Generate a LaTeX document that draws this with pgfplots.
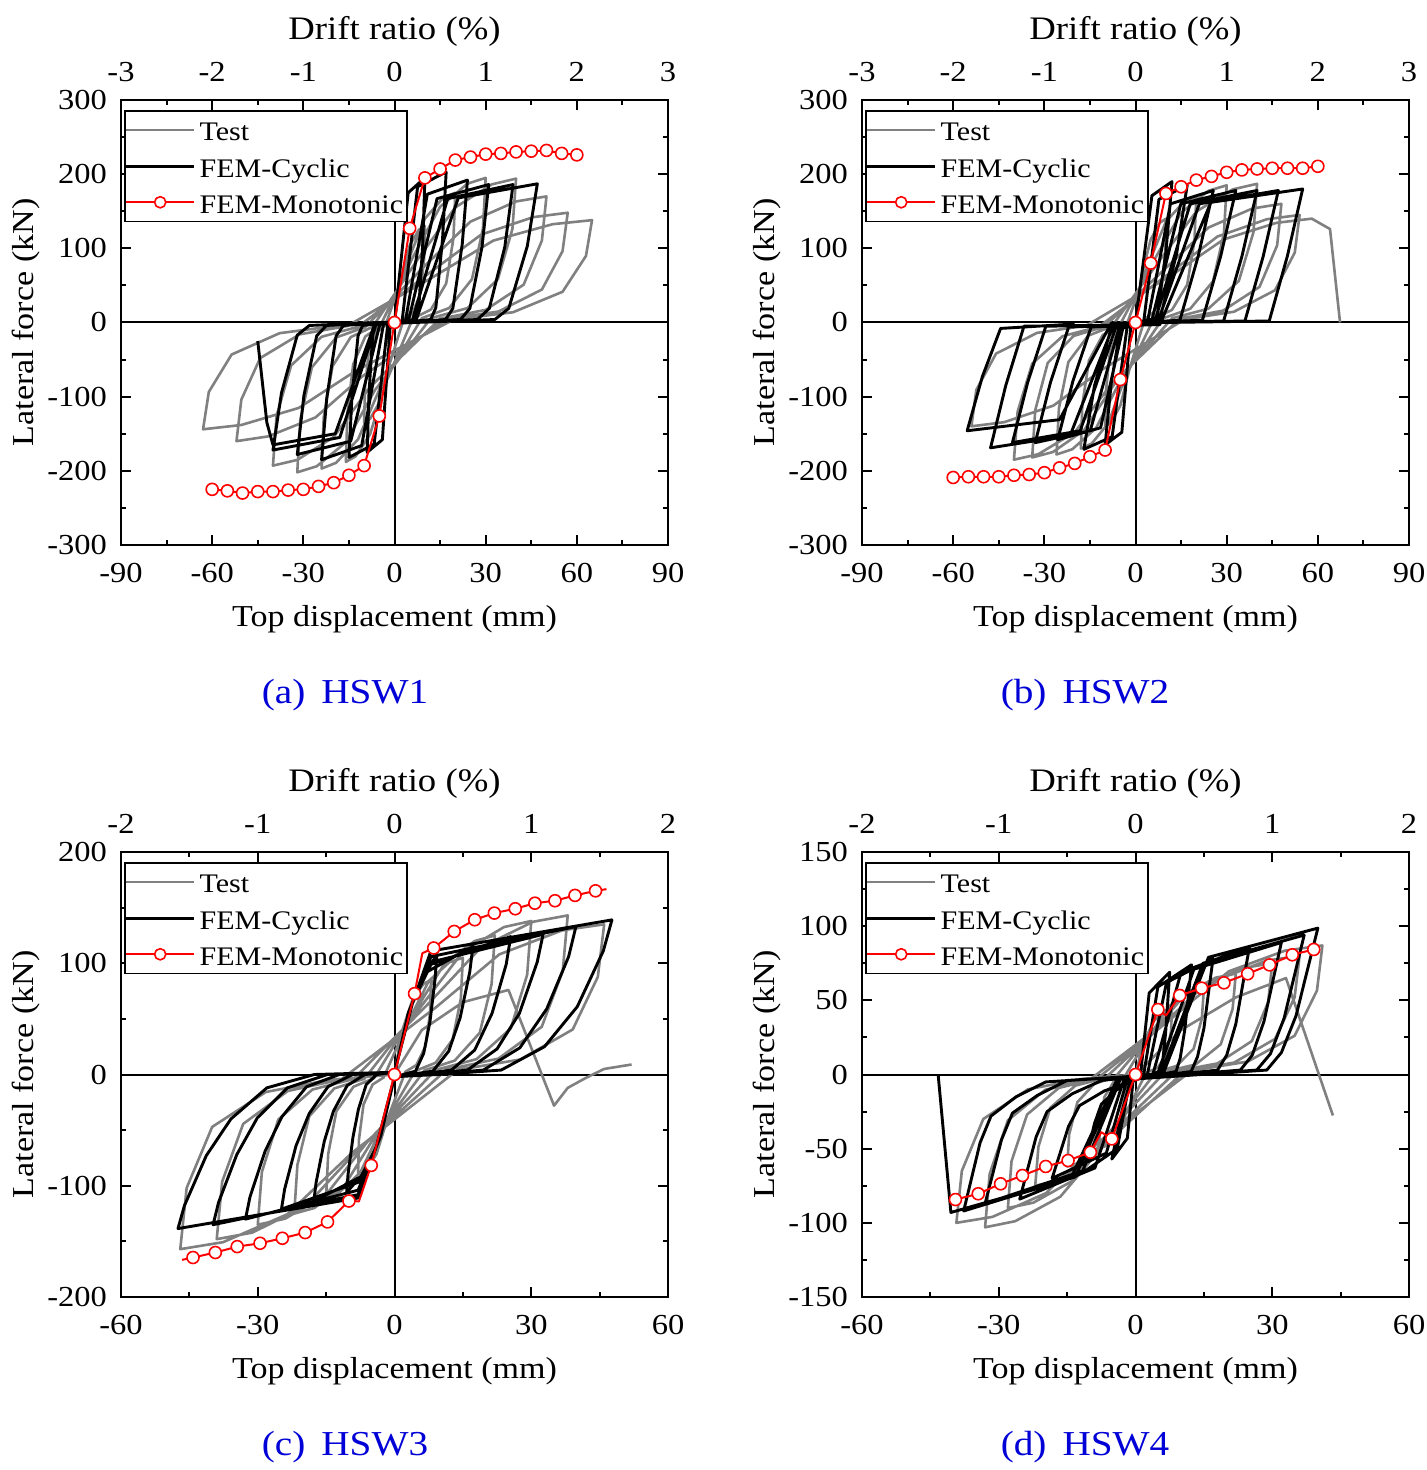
\documentclass[border=0pt]{standalone}
\usepackage{fontspec}
\setmainfont{Liberation Serif}[FakeStretch=1.12]
\usepackage{pgfplots}
\pgfplotsset{compat=1.18}
\definecolor{testgray}{RGB}{128,128,128}
\definecolor{capblue}{RGB}{0,0,215}
\newcommand{\tickfont}{\fontsize{14.5}{14.5}\selectfont}
\newcommand{\labfont}{\fontsize{15.2}{15.2}\selectfont}
\newcommand{\drfont}{\fontsize{16.4}{16.4}\selectfont}
\newcommand{\legfont}{\fontsize{13.4}{13.4}\selectfont}
\newcommand{\capfont}{\fontsize{17.5}{17.5}\selectfont}
\newcommand{\ls}{\rule[-5pt]{0pt}{17.6pt}}
\pgfplotsset{
  hswbase/.style={
    scale only axis, width=273.5pt, height=222.5pt, anchor=north west,
    axis line style={line width=1.2pt},
    tick style={black, line width=1pt},
    major tick length=5pt, minor tick length=2.5pt,
    tick align=inside,
    minor x tick num=1, minor y tick num=1,
    /pgf/number format/assume math mode=true,
    tick label style={font=\tickfont},
    label style={font=\labfont},
  },
  hsw/.style={hswbase,
    xlabel={Top displacement (mm)}, ylabel={Lateral force (kN)},
    xlabel style={at={(axis description cs:0.5,-0.167)}, anchor=center},
    ylabel style={at={(axis description cs:-0.174,0.5)}, anchor=center},
    xticklabel style={yshift=-5.8pt},
    yticklabel style={xshift=-3.5pt},
    legend style={at={(axis description cs:0.0055,0.9775)}, anchor=north west, draw=black, line width=0.75pt, font=\legfont, inner xsep=0pt, inner ysep=0.5pt},
    legend cell align=left,
    legend image code/.code={\draw[##1] (0pt,0pt) -- (34pt,0pt);},
  },
  hswtop/.style={hswbase, axis x line*=top, axis y line=none, ymin=0, ymax=1,
    xlabel={Drift ratio (\%)},
    xlabel style={font=\drfont, at={(axis description cs:0.5,1.155)}, anchor=center},
    xticklabel style={yshift=5.8pt},
  },
  zero/.style={black, line width=1pt, forget plot},
  test/.style={testgray, line width=1.3pt, line join=round},
  fem/.style={black, line width=1.45pt, line join=round},
  mono/.style={red, line width=1pt, line join=round, mark=*, mark size=3pt, mark options={fill=white, draw=red, line width=0.8pt},
    legend image code/.code={\draw[red, line width=1.2pt] (0pt,0pt) -- (34pt,0pt); \draw[red, fill=white, line width=0.8pt] (17pt,0pt) circle (2.8pt);}},
}
\begin{document}
\begin{tikzpicture}
\useasboundingbox (0,0) rectangle (713.5pt,-735pt);
% ---------------- (a) HSW1 ----------------
\begin{axis}[hsw, at={(60.5pt,-50pt)}, xmin=-90, xmax=90, ymin=-300, ymax=300,
  xtick={-90,-60,...,90}, ytick={-300,-200,...,300}]
\addplot[zero] coordinates {(-90,0) (90,0)};
\addplot[zero] coordinates {(0,-300) (0,300)};
\addplot[test] coordinates {(0,0)
(2,58.5) (5,104) (8,125) (10,130) (9.7,84.5) (8.5,39) (6,13) (3,3.9) (-2,-60.75) (-5,-108) (-8,-129.6) (-10,-135) (-9.7,-87.75) (-8.5,-40.5) (-6,-13.5) (-3,-4)
(4,78.75) (10,140) (16,168) (20,175) (19.4,113.75) (17,52.5) (12,17.5) (6,5.25) (-3.2,-84.6) (-8,-150.4) (-12.8,-180.5) (-16,-188) (-15.5,-122.2) (-13.6,-56.4) (-9.6,-18.8) (-4.8,-5.6)
(6,87.75) (15,156) (24,187.2) (30,195) (29.1,126.75) (25.5,58.5) (18,19.5) (9,5.85) (-4.8,-88.65) (-12,-157.6) (-19.2,-189.1) (-24,-197) (-23.3,-128) (-20.4,-59.1) (-14.4,-19.7) (-7.2,-5.9)
(8,87.3) (20,155.2) (32,186.2) (40,194) (38.8,126.1) (34,58.2) (24,19.4) (12,5.8) (-6.4,-90.9) (-16,-161.6) (-25.6,-193.9) (-32,-202) (-31,-131.3) (-27.2,-60.6) (-19.2,-20.2) (-9.6,-6.1)
(10,76.5) (25,136) (40,163.2) (50,170) (48.5,110.5) (42.5,51) (30,17) (15,5.1) (-8,-86.85) (-20,-154.4) (-32,-185.3) (-40,-193) (-38.8,-125.5) (-34,-57.9) (-24,-19.3) (-12,-5.8)
(11.4,66.6) (28.5,118.4) (45.6,142) (57,148) (55.3,96.2) (48.5,44.4) (34.2,14.8) (17.1,4.4) (-10.4,-72) (-26,-128) (-41.6,-153.6) (-52,-160) (-50.4,-104) (-44.2,-48) (-31.2,-16) (-15.6,-4.8)
(13,62.1) (32.5,110.4) (52,132.5) (65,138) (63,89.7) (55.3,41.4) (39,13.8) (19.5,4.1) (-12.6,-64.8) (-31.5,-115.2) (-50.4,-138.2) (-63,-144) (-61.1,-93.6) (-53.6,-43.2) (-37.8,-14.4) (-18.9,-4.3)};
\addlegendentry{\ls Test}
\addplot[fem] coordinates {(0,0) (4.5,175) (10,195) (9.3,107) (8,20) (7,4) (-1.35,-2) (-4,-158) (-9,-175) (-8.4,-96) (-7.2,-18) (-6.3,-3.5)
(2.5,2) (7.6,183) (17,203) (15.8,112) (13.6,20) (11.9,4) (-2.2,-2) (-6.7,-164) (-15,-182) (-14,-100) (-12,-18) (-10.5,-4)
(3.6,2) (10.8,173) (24,192) (22.3,106) (19.2,19) (16.8,4) (-3.6,-2) (-10.8,-166) (-24,-185) (-22.3,-102) (-19.2,-18) (-16.8,-4)
(4.6,2) (14,167) (31,186) (28.8,102) (24.8,19) (21.7,4) (-4.8,-2) (-14.4,-160) (-32,-178) (-29.8,-98) (-25.6,-18) (-22.4,-4)
(5.8,2) (17.5,167) (39,186) (36.3,102) (31.2,19) (27.3,4) (-6,-2) (-18,-155) (-40,-172) (-37.2,-95) (-32,-17) (-28,-4)
(7,2) (21,168) (47,187) (43.7,103) (37.6,19) (33,4) (-6.5,-2) (-19.5,-150) (-40,-165) (-42,-135) (-45,-25)};
\addlegendentry{\ls FEM-Cyclic}
\addplot[mono] coordinates {(-60,-225) (-55,-227) (-50,-230) (-45,-228) (-40,-228) (-35,-226) (-30,-225) (-25,-221) (-20,-216) (-15,-206) (-10,-193) (-5,-126) (0,0) (5,127) (10,195) (15,207) (20,219) (25,223) (30,227) (35,228) (40,230) (45,231) (50,232) (55,228) (60,226)};
\addlegendentry{\ls FEM-Monotonic}
\end{axis}
\begin{axis}[hswtop, at={(60.5pt,-50pt)}, xmin=-3, xmax=3, xtick={-3,...,3}]
\end{axis}
% ---------------- (b) HSW2 ----------------
\begin{axis}[hsw, at={(431pt,-50pt)}, xmin=-90, xmax=90, ymin=-300, ymax=300,
  xtick={-90,-60,...,90}, ytick={-300,-200,...,300}]
\addplot[zero] coordinates {(-90,0) (90,0)};
\addplot[zero] coordinates {(0,-300) (0,300)};
\addplot[test] coordinates {(0,0)
(2,63) (5,112) (8,134.4) (10,140) (9.7,91) (8.5,42) (6,14) (3,4.2) (-2,-63) (-5,-112) (-8,-134.4) (-10,-140) (-9.7,-91) (-8.5,-42) (-6,-14) (-3,-4.2)
(4,76.5) (10,136) (16,163.2) (20,170) (19.4,110.5) (17,51) (12,17) (6,5.1) (-3.6,-76.5) (-9,-136) (-14.4,-163.2) (-18,-170) (-17.5,-110.5) (-15.3,-51) (-10.8,-17) (-5.4,-5.1)
(6,83.25) (15,148) (24,177.6) (30,185) (29.1,120.25) (25.5,55.5) (18,18.5) (9,5.55) (-5.2,-80.1) (-13,-142.4) (-20.8,-170.9) (-26,-178) (-25.2,-115.7) (-22.1,-53.4) (-15.6,-17.8) (-7.8,-5.3)
(8,84.15) (20,149.6) (32,179.5) (40,187) (38.8,121.55) (34,56.1) (24,18.7) (12,5.6) (-6.8,-81.9) (-17,-145.6) (-27.2,-174.7) (-34,-182) (-33,-118.3) (-28.9,-54.6) (-20.4,-18.2) (-10.2,-5.5)
(9.6,72) (24,128) (38.4,153.6) (48,160) (46.6,104) (40.8,48) (28.8,16) (14.4,4.8) (-8,-83.25) (-20,-148) (-32,-177.6) (-40,-185) (-38.8,-120.25) (-34,-55.5) (-24,-18.5) (-12,-5.55)
(10.8,65.25) (27,116) (43.2,139.2) (54,145) (52.4,94.25) (45.9,43.5) (32.4,14.5) (16.2,4.35) (-10.8,-63) (-27,-112) (-43.2,-134.4) (-54,-140) (-52.4,-91) (-45.9,-42) (-32.4,-14) (-16.2,-4.2)
(11.6,63) (29,112) (46.4,134.4) (58,140) (64,126) (67.3,0)};
\addlegendentry{\ls Test}
\addplot[fem] coordinates {(0,0) (5.4,171) (12,190) (10,95) (7,6) (-1.5,-2) (-4.5,-148) (-10,-165) (-8,-82) (-5,-8)
(2.6,-2) (7.7,166) (17,185) (13.5,92) (8,5) (-2.6,-1) (-7.7,-154) (-17,-171) (-13.5,-85) (-8,-8)
(3.8,-2) (11.5,160) (25.6,178) (20.6,89) (14.6,3) (-3.8,-1) (-11.5,-142) (-25.6,-158) (-20.6,-79) (-14.6,-6)
(5,-3) (14.9,160) (33,178) (28,89) (22,3) (-5,-1) (-14.9,-146) (-33,-162) (-28,-81) (-22,-6)
(6,-3) (18,160) (40,178) (35,89) (29,2) (-6,-1) (-18.2,-146) (-40.5,-162) (-35.5,-81) (-29.5,-5)
(7,-3) (21,160) (47,178) (42,89) (36,2) (-7,-1) (-21.5,-152) (-47.7,-169) (-42.7,-85) (-36.7,-5)
(8,-3) (24.8,162) (55,180) (50,90) (44,2) (-8,-1) (-25,-131) (-55.4,-146) (-50.4,-73) (-44.4,-8) (-20,-2)};
\addlegendentry{\ls FEM-Cyclic}
\addplot[mono] coordinates {(-60,-209) (-55,-208) (-50,-208) (-45,-208) (-40,-206) (-35,-205) (-30,-202.5) (-25,-196) (-20,-190) (-15,-181) (-10,-172) (-5,-77) (0,0) (5,80) (10,174) (15,183) (20,192) (25,197) (30,202.5) (35,205.7) (40,207) (45,208) (50,208) (55,208) (60,210.6)};
\addlegendentry{\ls FEM-Monotonic}
\end{axis}
\begin{axis}[hswtop, at={(431pt,-50pt)}, xmin=-3, xmax=3, xtick={-3,...,3}]
\end{axis}
% ---------------- (c) HSW3 ----------------
\begin{axis}[hsw, at={(60.5pt,-426pt)}, xmin=-60, xmax=60, ymin=-200, ymax=200,
  xtick={-60,-30,...,60}, ytick={-200,-100,...,200}]
\addplot[zero] coordinates {(-60,0) (60,0)};
\addplot[zero] coordinates {(0,-200) (0,200)};
\addplot[test] coordinates {(0,0)
(1.6,38.25) (4,68) (6.4,81.6) (8,85) (7.8,55.25) (6.8,25.5) (4.8,8.5) (2.4,2.55) (-1.6,-40.5) (-4,-72) (-6.4,-86.4) (-8,-90) (-7.8,-58.5) (-6.8,-27) (-4.8,-9) (-2.4,-2.7)
(3,47.25) (7.5,84) (12,100.8) (15,105) (14.55,68.25) (12.75,31.5) (9,10.5) (4.5,3.15) (-3,-49.5) (-7.5,-88) (-12,-105.6) (-15,-110) (-14.55,-71.5) (-12.75,-33) (-9,-11) (-4.5,-3.3)
(4.4,56.25) (11,100) (17.6,120) (22,125) (21.3,81.25) (18.7,37.5) (13.2,12.5) (6.6,3.75) (-4.4,-56.25) (-11,-100) (-17.6,-120) (-22,-125) (-21.3,-81.25) (-18.7,-37.5) (-13.2,-12.5) (-6.6,-3.75)
(6,62.1) (15,110.4) (24,132.5) (30,138) (29.1,89.7) (25.5,41.4) (18,13.8) (9,4.1) (-6,-60.75) (-15,-108) (-24,-129.6) (-30,-135) (-29.1,-87.75) (-25.5,-40.5) (-18,-13.5) (-9,-4.05)
(7.6,64.35) (19,114.4) (30.4,137.3) (38,143) (36.9,93) (32.3,42.9) (22.8,14.3) (11.4,4.3) (-7.8,-66.6) (-19.5,-118.4) (-31.2,-142.1) (-39,-148) (-37.8,-96.2) (-33.2,-44.4) (-23.4,-14.8) (-11.7,-4.4)
(9.2,60.75) (23,108) (36.8,129.6) (46,135) (44.6,87.75) (39.1,40.5) (27.6,13.5) (13.8,4.05) (-9.4,-70.65) (-23.5,-125.6) (-37.6,-150.7) (-47,-157) (-45.6,-102) (-40,-47.1) (-28.2,-15.7) (-14.1,-4.7)
(0,0) (6,40) (15,65) (25,76) (35,-28) (38,-12) (42,-3) (46,5) (52,9)};
\addlegendentry{\ls Test}
\addplot[fem] coordinates {(0,0) (3,55) (6,86) (9.3,108) (8.9,86) (7.8,48) (6.4,19) (4.6,3) (1.9,0) (0,-2) (-3,-55) (-6,-85) (-10.5,-106) (-10.2,-90) (-9.1,-56) (-7.9,-31) (-6.2,-9) (-3.9,0) (0,2)
(3.5,60) (7,92) (17.2,115) (16.5,92) (14.4,51) (11.9,21) (8.4,3) (3.4,0) (0,-2) (-3.5,-60) (-7,-91) (-17.7,-114) (-17.2,-97) (-15.4,-60) (-13.4,-33) (-10.4,-10) (-6.5,0) (0,2)
(4,65) (8,99) (25.5,124) (24.5,99) (21.4,55) (17.6,22) (12.5,4) (5.1,0) (0,-2) (-4,-65) (-8,-97) (-24.8,-121) (-24.1,-103) (-21.6,-64) (-18.7,-35) (-14.6,-11) (-9.2,0) (0,2)
(4,65) (8,101) (32.6,126) (31.3,101) (27.4,55) (22.5,23) (16,4) (6.5,0) (0,-2) (-4,-65) (-8,-104) (-32.7,-130) (-31.7,-110) (-28.4,-69) (-24.7,-38) (-19.3,-11) (-12.1,0) (0,2)
(4,65) (8,106) (39.8,133) (38.2,106) (33.4,59) (27.5,24) (19.5,4) (8,0) (0,-2) (-4,-65) (-8,-108) (-39.8,-135) (-38.6,-115) (-34.6,-72) (-30.1,-39) (-23.5,-12) (-14.7,0) (0,2)
(4,65) (8,111) (47.7,139) (45.8,111) (40.1,61) (32.9,25) (23.4,4) (9.5,0) (0,-2) (-4,-65) (-8,-111) (-47.5,-138.5) (-46.1,-118) (-41.3,-73) (-35.9,-40) (-28,-12) (-17.6,0) (0,2)};
\addlegendentry{\ls FEM-Cyclic}
\addplot[mono, mark indices={2,3,4,5,6,7,8,9,11,12,13,15,16,17,18,19,20,21,22,23}] coordinates {(-46.6,-166.6) (-44.2,-164.5) (-39.3,-160) (-34.5,-154.7) (-29.5,-151.7) (-24.6,-147.2) (-19.6,-142.1) (-14.7,-132.5) (-10,-113.7) (-7.8,-114) (-5.1,-81.7) (0,0) (4.4,72.7) (6.1,109) (8.6,113.7) (13.1,128.6) (17.6,139.1) (21.9,145.1) (26.5,149) (30.8,154) (35.2,156.2) (39.6,161) (44.1,165.1) (46.5,166.6)};
\addlegendentry{\ls FEM-Monotonic}
\end{axis}
\begin{axis}[hswtop, at={(60.5pt,-426pt)}, xmin=-2, xmax=2, xtick={-2,...,2}]
\end{axis}
% ---------------- (d) HSW4 ----------------
\begin{axis}[hsw, at={(431pt,-426pt)}, xmin=-60, xmax=60, ymin=-150, ymax=150,
  xtick={-60,-30,...,60}, ytick={-150,-100,...,150}]
\addplot[zero] coordinates {(-60,0) (60,0)};
\addplot[zero] coordinates {(0,-150) (0,150)};
\addplot[test] coordinates {(0,0)
(1.6,20.25) (4,36) (6.4,43.2) (8,45) (7.8,29.25) (6.8,13.5) (4.8,4.5) (2.4,1.35) (-1.6,-22.5) (-4,-40) (-6.4,-48) (-8,-50) (-7.8,-32.5) (-6.8,-15) (-4.8,-5) (-2.4,-1.5)
(3,26.1) (7.5,46.4) (12,55.7) (15,58) (14.55,37.7) (12.75,17.4) (9,5.8) (4.5,1.7) (-3,-27.9) (-7.5,-49.6) (-12,-59.5) (-15,-62) (-14.55,-40.3) (-12.75,-18.6) (-9,-6.2) (-4.5,-1.9)
(4.4,30.6) (11,54.4) (17.6,65.3) (22,68) (21.3,44.2) (18.7,20.4) (13.2,6.8) (6.6,2) (-4.4,-33.75) (-11,-60) (-17.6,-72) (-22,-75) (-21.3,-48.75) (-18.7,-22.5) (-13.2,-7.5) (-6.6,-2.25)
(6,33.75) (15,60) (24,72) (30,75) (29.1,48.75) (25.5,22.5) (18,7.5) (9,2.25) (-5.6,-40.5) (-14,-72) (-22.4,-86.4) (-28,-90) (-27.2,-58.5) (-23.8,-27) (-16.8,-9) (-8.4,-2.7)
(7.2,36) (18,64) (28.8,76.8) (36,80) (34.9,52) (30.6,24) (21.6,8) (10.8,2.4) (-6.6,-46.35) (-16.5,-82.4) (-26.4,-98.9) (-33,-103) (-32,-67) (-28,-30.9) (-19.8,-10.3) (-9.9,-3.1)
(8.2,39.15) (20.5,69.6) (32.8,83.5) (41,87) (39.8,56.55) (34.9,26.1) (24.6,8.7) (12.3,2.6) (-7.9,-45) (-19.65,-80) (-31.4,-96) (-39.3,-100) (-38.1,-65) (-33.4,-30) (-23.6,-10) (-11.8,-3)
(0,0) (10,30) (22,52) (33,65) (43.3,-27.6)};
\addlegendentry{\ls Test}
\addplot[fem] coordinates {(0,0) (1.1,0) (3,55) (7.5,69) (7.2,55) (6.6,28) (6,10) (5.4,2) (0,-3) (-0.5,-3) (-1.8,-43) (-5.2,-57) (-4,-40) (-3,-25) (-1.5,-8) (0,-2)
(1.8,0) (4.9,59) (12.3,74) (11.8,59) (10.8,30) (9.8,11) (8.9,2) (0,-3) (-1.2,-3) (-4,-50) (-11.5,-66) (-9,-33) (-7.5,-20) (-4,-10) (0,-3)
(2.6,0) (6.8,62) (17,78) (16.3,62) (15,31) (13.6,12) (12.2,2) (0,-3) (-1.8,-3) (-6.4,-53) (-18.3,-70) (-14.7,-35) (-12.3,-21) (-6.8,-11) (-0.3,-4)
(3.8,0) (10,69) (25,86) (24,69) (22,34) (20,13) (18,3) (0,-3) (-2.5,-3) (-8.9,-63) (-25.4,-84) (-21.8,-42) (-19.4,-25) (-13.9,-13) (-7.4,-4)
(4.8,0) (12.8,71) (32,89) (30.7,71) (28.2,36) (25.6,13) (23,3) (0,-3) (-3.3,-3) (-11.6,-65) (-33,-87) (-29.4,-44) (-27,-26) (-21.5,-14) (-15,-4)
(5.5,0) (14.8,75) (37,94) (35.5,75) (32.6,38) (29.6,14) (26.6,3) (0,-3) (-3.8,-3) (-13.2,-69) (-37.7,-92) (-34.1,-46) (-31.7,-28) (-26.2,-15) (-19.7,-5)
(6,0) (16,79) (40,98.7) (38.4,79) (35.2,39.5) (32,14.8) (28.8,3) (0,-3) (-4,-3) (-14.2,-70) (-40.5,-93) (-43.3,0)};
\addlegendentry{\ls FEM-Cyclic}
\addplot[mono, mark indices={1,2,3,4,5,6,7,9,10,11,13,14,15,16,17,18,19}] coordinates {(-39.5,-84.3) (-34.5,-80.4) (-29.6,-73.7) (-24.8,-68.1) (-19.7,-62) (-14.8,-58) (-9.9,-52.4) (-7.5,-38.9) (-5.2,-43.4) (0,0) (4.9,43.8) (6.7,39.8) (9.7,53.3) (14.5,58.2) (19.4,61.8) (24.6,67.9) (29.4,73.9) (34.4,80.7) (39.1,84.3)};
\addlegendentry{\ls FEM-Monotonic}
\end{axis}
\begin{axis}[hswtop, at={(431pt,-426pt)}, xmin=-2, xmax=2, xtick={-2,...,2}]
\end{axis}
% captions
\node[font=\capfont, text=capblue] at (172.5pt,-347.5pt) {(a)\hspace{8pt}HSW1};
\node[font=\capfont, text=capblue] at (542.5pt,-347.5pt) {(b)\hspace{8pt}HSW2};
\node[font=\capfont, text=capblue] at (172.5pt,-723.5pt) {(c)\hspace{8pt}HSW3};
\node[font=\capfont, text=capblue] at (542.5pt,-723.5pt) {(d)\hspace{8pt}HSW4};
\end{tikzpicture}
\end{document}
